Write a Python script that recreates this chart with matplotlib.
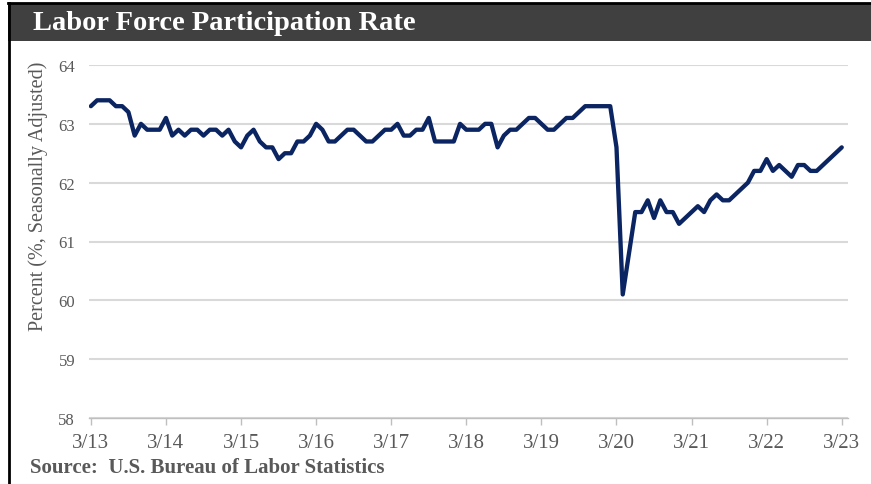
"""Labor Force Participation Rate, 3/13 - 3/23 (monthly, BLS)."""

import matplotlib

matplotlib.use("Agg")
import matplotlib.pyplot as plt
from matplotlib.lines import Line2D
from matplotlib.patches import Rectangle

# monthly values, Mar 2013 .. Mar 2023
rate_2013_14 = [63.3, 63.4, 63.4, 63.4, 63.3, 63.3, 63.2, 62.8, 63.0, 62.9, 62.9, 62.9]
rate_2014_15 = [63.1, 62.8, 62.9, 62.8, 62.9, 62.9, 62.8, 62.9, 62.9, 62.8, 62.9, 62.7]
rate_2015_16 = [62.6, 62.8, 62.9, 62.7, 62.6, 62.6, 62.4, 62.5, 62.5, 62.7, 62.7, 62.8]
rate_2016_17 = [63.0, 62.9, 62.7, 62.7, 62.8, 62.9, 62.9, 62.8, 62.7, 62.7, 62.8, 62.9]
rate_2017_18 = [62.9, 63.0, 62.8, 62.8, 62.9, 62.9, 63.1, 62.7, 62.7, 62.7, 62.7, 63.0]
rate_2018_19 = [62.9, 62.9, 62.9, 63.0, 63.0, 62.6, 62.8, 62.9, 62.9, 63.0, 63.1, 63.1]
rate_2019_20 = [63.0, 62.9, 62.9, 63.0, 63.1, 63.1, 63.2, 63.3, 63.3, 63.3, 63.3, 63.3]
rate_2020_21 = [62.6, 60.1, 60.8, 61.5, 61.5, 61.7, 61.4, 61.7, 61.5, 61.5, 61.3, 61.4]
rate_2021_22 = [61.5, 61.6, 61.5, 61.7, 61.8, 61.7, 61.7, 61.8, 61.9, 62.0, 62.2, 62.2]
rate_2022_23 = [62.4, 62.2, 62.3, 62.2, 62.1, 62.3, 62.3, 62.2, 62.2, 62.3, 62.4, 62.5]
rate_2023 = [62.6]

rate = (rate_2013_14 + rate_2014_15 + rate_2015_16 + rate_2016_17 + rate_2017_18
        + rate_2018_19 + rate_2019_20 + rate_2020_21 + rate_2021_22 + rate_2022_23
        + rate_2023)
months = list(range(len(rate)))

tick_labels = ["3/13", "3/14", "3/15", "3/16", "3/17", "3/18",
               "3/19", "3/20", "3/21", "3/22", "3/23"]
y_ticks = [58, 59, 60, 61, 62, 63, 64]

TITLE = "Labor Force Participation Rate"
SOURCE = "Source:  U.S. Bureau of Labor Statistics"
NAVY = "#0b2563"
GRAY_TXT = "#595959"
GRID = "#d9d9d9"
SERIF = ["Liberation Serif", "DejaVu Serif"]

W, H = 871, 485
fig = plt.figure(figsize=(W / 100, H / 100), dpi=100)


def fx(px):
    return px / W


def fy(py):
    # pixel rows count from the top
    return 1 - py / H


# title bar + frame
fig.add_artist(Rectangle((fx(8), fy(42)), fx(W - 8), fy(5) - fy(42),
                         transform=fig.transFigure, facecolor="#404040",
                         edgecolor="none"))
fig.add_artist(Line2D([fx(8), 1], [fy(4), fy(4)], transform=fig.transFigure,
                      color="black", lw=2))
fig.add_artist(Line2D([fx(9), fx(9)], [0, fy(4)], transform=fig.transFigure,
                      color="black", lw=2))
fig.text(fx(33), fy(24), TITLE, color="white", fontsize=20.5, fontweight="bold",
         family=SERIF, va="center", ha="left")

ax = fig.add_axes([fx(89), fy(419), fx(848 - 89), fy(66) - fy(419)])
ax.plot(months, rate, color=NAVY, lw=3.1, solid_joinstyle="round",
        solid_capstyle="round", zorder=3)

ax.set_ylim(58, 64)
ax.set_xlim(-0.3, 121)
ax.set_yticks(y_ticks)
ax.set_yticklabels([str(v) for v in y_ticks], family=SERIF, fontsize=12,
                   color=GRAY_TXT)
ax.set_xticks(months[::12])
ax.set_xticklabels(tick_labels, family=SERIF, fontsize=15, color=GRAY_TXT)
ax.tick_params(axis="y", length=0, pad=10)
ax.tick_params(axis="x", length=5, color="#bfbfbf", width=1, pad=6)
ax.grid(axis="y", color=GRID, lw=1.5, zorder=0)
for side in ("top", "right", "left"):
    ax.spines[side].set_visible(False)
ax.spines["bottom"].set_color("#bfbfbf")
ax.spines["bottom"].set_linewidth(1)
ax.set_ylabel("Percent (%, Seasonally Adjusted)", family=SERIF, fontsize=14.5,
              color=GRAY_TXT)
# label sits high on the axis in the original, not centred
ax.yaxis.set_label_coords(-0.054, 0.632)

fig.text(fx(30), fy(468), SOURCE, color=GRAY_TXT, fontsize=15,
         fontweight="bold", family=SERIF, va="center", ha="left")

fig.savefig("out.png", dpi=100)
